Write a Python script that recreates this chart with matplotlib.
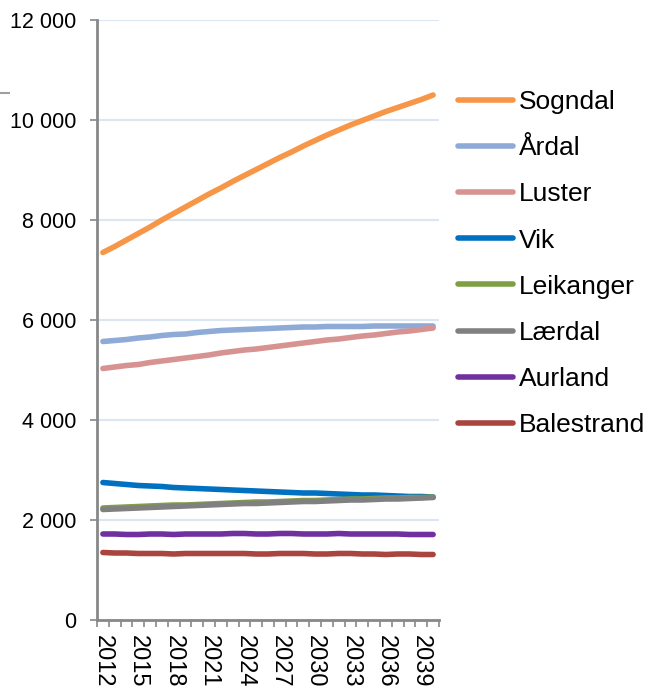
import matplotlib
matplotlib.use("Agg")
import matplotlib.pyplot as plt
import matplotlib.ticker as ticker
from matplotlib.lines import Line2D
import numpy as np

plt.rcParams["font.family"] = ["Liberation Sans", "DejaVu Sans"]

years = list(range(2012, 2041))

sogndal = [7350, 7470, 7600, 7730, 7860, 8000, 8130, 8260, 8390, 8520,
           8640, 8770, 8890, 9010, 9130, 9250, 9360, 9480, 9590, 9700,
           9800, 9900, 9990, 10080, 10170, 10250, 10330, 10410, 10500]
ardal = [5570, 5590, 5610, 5640, 5660, 5690, 5710, 5720, 5750, 5770,
         5790, 5800, 5810, 5820, 5830, 5840, 5850, 5860, 5860, 5870,
         5870, 5870, 5870, 5880, 5880, 5880, 5880, 5880, 5880]
luster = [5030, 5060, 5090, 5110, 5150, 5180, 5210, 5240, 5270, 5300,
          5340, 5370, 5400, 5420, 5450, 5480, 5510, 5540, 5570, 5600,
          5620, 5650, 5680, 5700, 5730, 5760, 5780, 5810, 5840]
vik = [2750, 2730, 2710, 2690, 2680, 2670, 2650, 2640, 2630, 2620,
       2610, 2600, 2590, 2580, 2570, 2560, 2550, 2540, 2540, 2530,
       2520, 2510, 2500, 2500, 2490, 2480, 2470, 2470, 2460]
leikanger = [2240, 2250, 2260, 2270, 2280, 2290, 2300, 2300, 2310, 2320,
             2330, 2340, 2350, 2360, 2360, 2370, 2380, 2390, 2390, 2400,
             2410, 2420, 2420, 2430, 2440, 2440, 2450, 2450, 2460]
laerdal = [2210, 2220, 2230, 2240, 2250, 2260, 2270, 2280, 2290, 2300,
           2310, 2320, 2330, 2330, 2340, 2350, 2360, 2370, 2370, 2380,
           2390, 2400, 2400, 2410, 2420, 2420, 2430, 2440, 2450]
aurland = [1720, 1720, 1710, 1710, 1720, 1720, 1710, 1720, 1720, 1720,
           1720, 1730, 1730, 1720, 1720, 1730, 1730, 1720, 1720, 1720,
           1730, 1720, 1720, 1720, 1720, 1720, 1710, 1710, 1710]
balestrand = [1350, 1340, 1340, 1330, 1330, 1330, 1320, 1330, 1330, 1330,
              1330, 1330, 1330, 1320, 1320, 1330, 1330, 1330, 1320, 1320,
              1330, 1330, 1320, 1320, 1310, 1320, 1320, 1310, 1310]

series = [
    ("Sogndal", sogndal, "#f79646"),
    ("Årdal", ardal, "#8eaad6"),
    ("Luster", luster, "#d69392"),
    ("Vik", vik, "#0070c0"),
    ("Leikanger", leikanger, "#7f9f45"),
    ("Lærdal", laerdal, "#808080"),
    ("Aurland", aurland, "#7030a0"),
    ("Balestrand", balestrand, "#a9443f"),
]

fig = plt.figure(figsize=(6.63, 6.95), dpi=100)
ax = fig.add_axes([97 / 663, 75 / 695, 342 / 663, 600 / 695])

x = np.arange(len(years))
for name, vals, color in series:
    ax.plot(x, vals, color=color, linewidth=4, solid_capstyle="round",
            label=name)

ax.set_xlim(-0.5, len(years) - 0.5)
ax.set_ylim(0, 12000)

ax.yaxis.set_major_locator(ticker.MultipleLocator(2000))
ax.yaxis.set_major_formatter(
    ticker.FuncFormatter(lambda v, p: f"{int(v):,}".replace(",", " ")))
ax.grid(axis="y", color="#dce6f2", linewidth=1.5)
ax.set_axisbelow(True)

label_pos = x[::3]
ax.set_xticks(label_pos)
ax.set_xticklabels([str(years[i]) for i in label_pos], rotation=-90)
ax.set_xticks(np.arange(-0.5, len(years)), minor=True)
ax.tick_params(axis="x", which="major", length=0, pad=11, labelsize=17)
ax.tick_params(axis="x", which="minor", length=5, width=1.2, color="#888888")
ax.tick_params(axis="y", length=5, width=1.2, color="#888888", labelsize=15.5,
               pad=10)

for side in ["top", "right"]:
    ax.spines[side].set_visible(False)
for side in ["left", "bottom"]:
    ax.spines[side].set_color("#888888")
    ax.spines[side].set_linewidth(2)

fig.legend(loc="upper left", bbox_to_anchor=(458 / 663, 1 - 90 / 695),
           frameon=False, fontsize=19, handlelength=2.1, handletextpad=0.2,
           labelspacing=0.84, borderpad=0, borderaxespad=0)

# small stray mark at left edge
fig.add_artist(Line2D([0, 9 / 663], [1 - 93 / 695, 1 - 93 / 695],
                      color="#a0a0a0", linewidth=1.5))

fig.savefig("out.png", dpi=100)
